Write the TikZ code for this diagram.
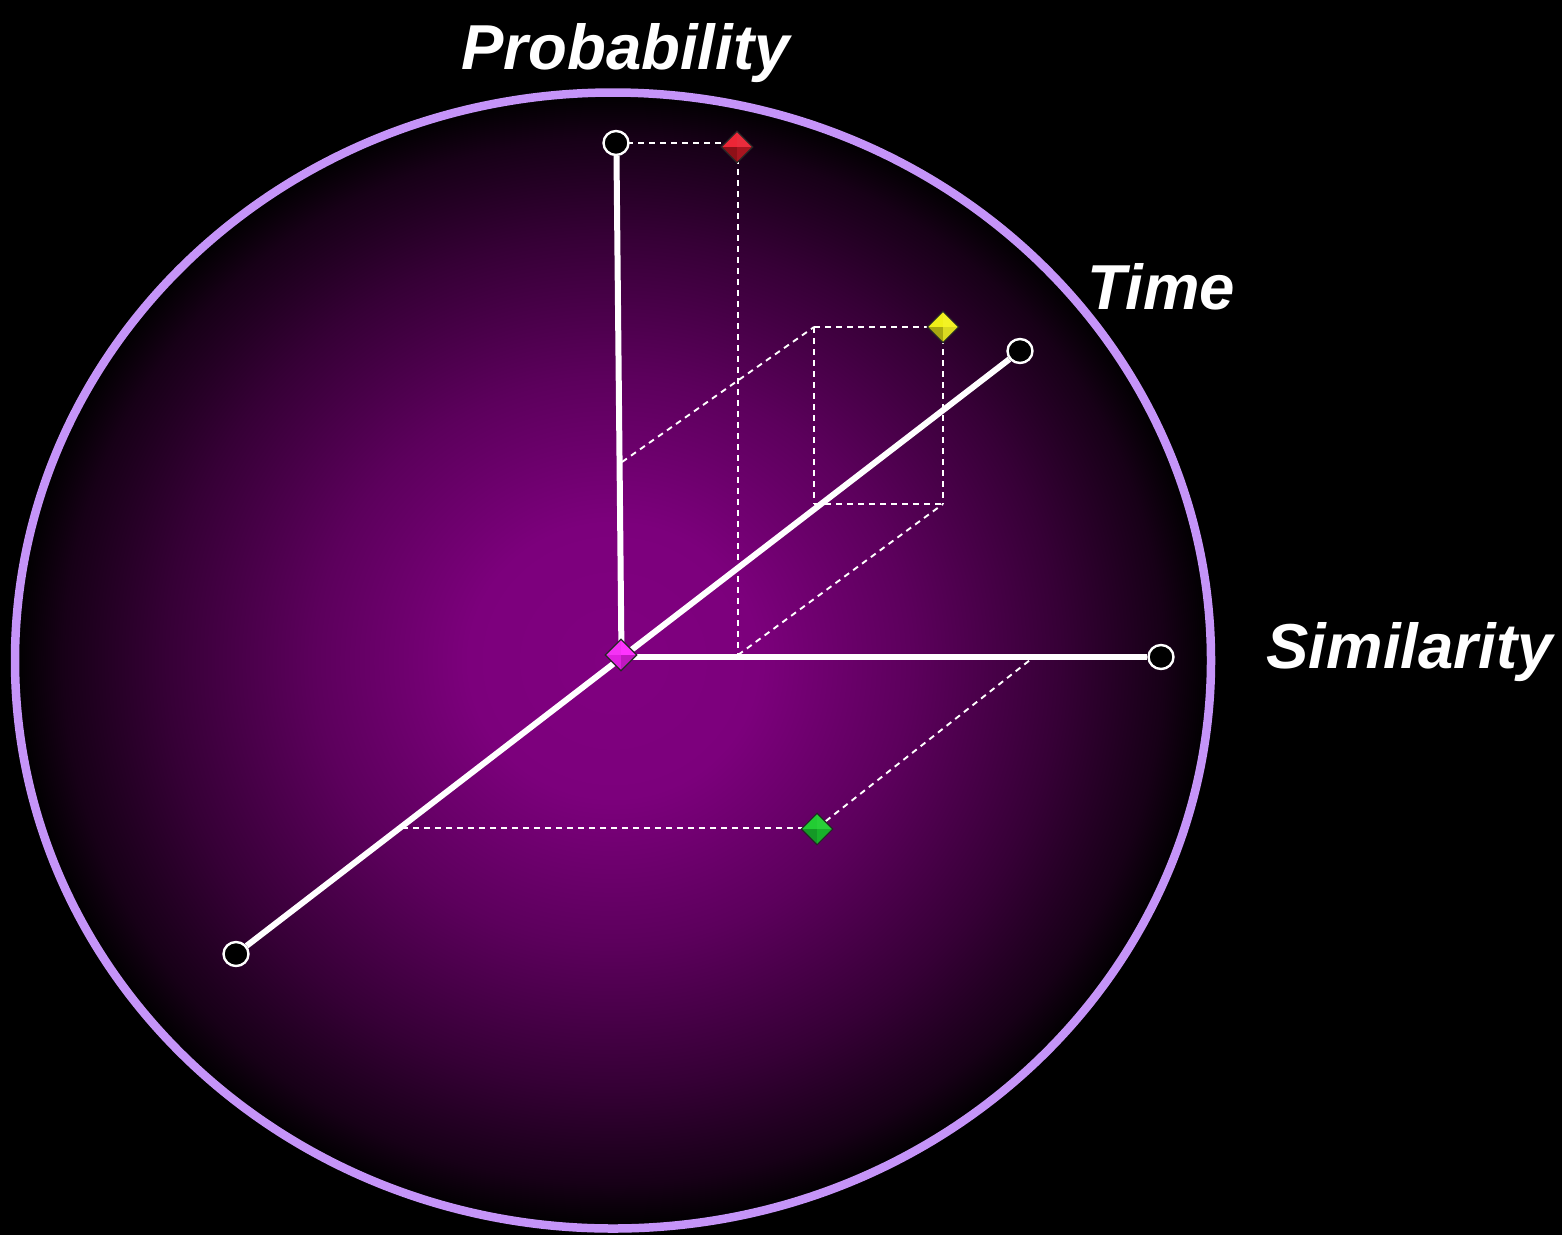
\documentclass[tikz,border=0pt]{standalone}
\usepackage{fontspec}
\setmainfont{Liberation Sans}
\usetikzlibrary{shapes.geometric}
\definecolor{rimc}{HTML}{C594F8}
\definecolor{glowc}{RGB}{128,0,128}
\pgfdeclareradialshading{glow}{\pgfpoint{0bp}{0bp}}{
  color(0bp)=(glowc); color(6bp)=(glowc!97!black); color(12.5bp)=(glowc!72!black);
  color(18.7bp)=(glowc!42!black); color(23bp)=(glowc!18!black); color(25bp)=(black); color(50bp)=(black)}
\definecolor{rA}{HTML}{EC2636}\definecolor{rB}{HTML}{E82C3C}\definecolor{rC}{HTML}{8E1018}\definecolor{rD}{HTML}{A81520}
\definecolor{yA}{HTML}{EFEF18}\definecolor{yB}{HTML}{F2F224}\definecolor{yC}{HTML}{A8A810}\definecolor{yD}{HTML}{DADA20}
\definecolor{gA}{HTML}{22CC33}\definecolor{gB}{HTML}{28D038}\definecolor{gC}{HTML}{149926}\definecolor{gD}{HTML}{18B02A}
\definecolor{mA}{HTML}{F433F4}\definecolor{mB}{HTML}{FF33FF}\definecolor{mC}{HTML}{E020E0}\definecolor{mD}{HTML}{C018C0}
\tikzset{
  axisline/.style={draw=white,line width=6pt},
  guide/.style={draw=white,line width=1.9pt,dash pattern=on 6pt off 5pt},
  endcap/.style={ellipse,draw=white,fill=black,line width=2.4pt,inner sep=0pt,minimum width=25pt,minimum height=24pt},
  gemnode/.style={diamond,inner sep=0pt,minimum width=30pt,minimum height=30pt,draw=black,line width=1.5pt},
  axislabel/.style={text=white,font=\fontsize{63.5}{64}\selectfont\bfseries\itshape,anchor=base,inner sep=0pt},
}
\newcommand{\gem}[6]{%
  \node[gemnode] (#1) at (#2) {};
  \fill[#3] (#1.west) -- (#1.north) -- (#1.center) -- cycle;
  \fill[#4] (#1.east) -- (#1.north) -- (#1.center) -- cycle;
  \fill[#5] (#1.west) -- (#1.south) -- (#1.center) -- cycle;
  \fill[#6] (#1.east) -- (#1.south) -- (#1.center) -- cycle;
  \draw[black!85,line width=1.1pt] (#1.west) -- (#1.north) -- (#1.east) -- (#1.south) -- cycle;
}
\begin{document}
\begin{tikzpicture}[x=1pt,y=-1pt]
\useasboundingbox (0,0) rectangle (1562,1235);
\fill[black] (0,0) rectangle (1562,1235);
\shade[shading=glow] (613,660.5) ellipse [x radius=598,y radius=568];
\draw[rimc,line width=8.5pt] (613,660.5) ellipse [x radius=598,y radius=568];

\coordinate (pA) at (737,143);
\coordinate (pB) at (738,655);
\coordinate (pC) at (943,504);
\coordinate (pD) at (814,504);
\coordinate (pE) at (814,327);
\coordinate (pF) at (622,462);
\coordinate (pG) at (402,828);
\coordinate (pH) at (1030,660);
\coordinate (org) at (621.5,657);
\coordinate (yc) at (943,327);
\coordinate (rc) at (738,147);
\coordinate (gc) at (817,828);

\draw[guide] (616,143) -- (pA);
\draw[guide] (rc) -- (pB);
\draw[guide] (pB) -- (pC);
\draw[guide] (pD) -- (pC);
\draw[guide] (pE) -- (pD);
\draw[guide] (pE) -- (yc);
\draw[guide] (yc) -- (pC);
\draw[guide] (pF) -- (pE);
\draw[guide] (pG) -- (gc);
\draw[guide] (gc) -- (pH);

\node[endcap] (top) at (616,143) {};
\node[endcap] (far) at (1020,351) {};
\node[endcap] (right) at (1161,657) {};
\node[endcap] (near) at (236,954) {};

\draw[axisline] (top.south) ++(0.5,0) -- (org);
\draw[axisline] (near) -- (far);
\draw[axisline] (org) -- (right);

\gem{redgem}{737,147}{rA}{rB}{rC}{rD}
\gem{yellowgem}{943,327}{yA}{yB}{yC}{yD}
\gem{greengem}{817,829}{gA}{gB}{gC}{gD}
\gem{magentagem}{621,655}{mA}{mB}{mC}{mD}

\node[axislabel] (lblP) at (625.5,69.5) {Probability};
\node[axislabel] (lblT) at (1161.5,309) {Time};
\node[axislabel] (lblS) at (1409.5,668) {Similarity};
\end{tikzpicture}
\end{document}
